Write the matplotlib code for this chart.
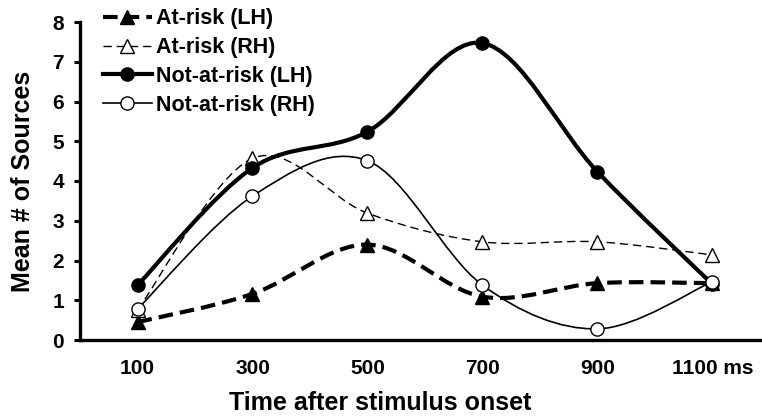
import matplotlib
matplotlib.use("Agg")
import matplotlib.pyplot as plt
from matplotlib.path import Path
from matplotlib.patches import PathPatch
from matplotlib.lines import Line2D
import numpy as np

plt.rcParams["font.family"] = ["Liberation Sans", "DejaVu Sans"]
plt.rcParams["font.weight"] = "bold"

# Data (mean number of sources per time window)
times = ["100", "300", "500", "700", "900", "1100 ms"]
at_risk_lh = [0.45, 1.16, 2.40, 1.09, 1.43, 1.43]
at_risk_rh = [0.75, 4.57, 3.19, 2.47, 2.47, 2.14]
not_at_risk_lh = [1.38, 4.33, 5.24, 7.47, 4.23, 1.40]
not_at_risk_rh = [0.78, 3.62, 4.51, 1.38, 0.28, 1.47]
y_ticks = [0, 1, 2, 3, 4, 5, 6, 7, 8]


def smooth_path(xs, ys):
    """Excel-style smoothed line: cubic Bezier through every point."""
    pts = np.column_stack([xs, ys]).astype(float)
    ext = np.vstack([pts[0], pts, pts[-1]])
    verts = [pts[0]]
    codes = [Path.MOVETO]
    for i in range(len(pts) - 1):
        p0, p1, p2, p3 = ext[i], ext[i + 1], ext[i + 2], ext[i + 3]
        verts += [p1 + (p2 - p0) / 6, p2 - (p3 - p1) / 6, p2]
        codes += [Path.CURVE4] * 3
    return Path(verts, codes)


fig = plt.figure(figsize=(7.62, 4.18), dpi=100)
ax = fig.add_axes([80 / 762, 78 / 418, 690 / 762, 318 / 418])

x = np.arange(len(times))

series = [
    ("At-risk (LH)", at_risk_lh, dict(lw=3.0, ls=(0, (3.5, 1.7))), dict(marker="^", mfc="black")),
    ("At-risk (RH)", at_risk_rh, dict(lw=1.0, ls=(0, (6, 3.5))), dict(marker="^", mfc="white")),
    ("Not-at-risk (LH)", not_at_risk_lh, dict(lw=3.0, ls="-"), dict(marker="o", mfc="black")),
    ("Not-at-risk (RH)", not_at_risk_rh, dict(lw=1.2, ls="-"), dict(marker="o", mfc="white")),
]

handles = []
for label, vals, line_kw, mark_kw in series:
    patch = PathPatch(smooth_path(x, vals), fill=False, edgecolor="black",
                      lw=line_kw["lw"], linestyle=line_kw["ls"], capstyle="butt",
                      zorder=2)
    ax.add_patch(patch)
    ax.plot(x, vals, ls="none", marker=mark_kw["marker"], mfc=mark_kw["mfc"],
            mec="black", mew=1.0, ms=9.5, zorder=3)
    handles.append(Line2D([], [], color="black", lw=line_kw["lw"], ls=line_kw["ls"],
                          marker=mark_kw["marker"], mfc=mark_kw["mfc"], mec="black",
                          mew=1.0, ms=9.5, dash_capstyle="butt", label=label))

ax.set_xlim(-0.5, len(times) - 0.5)
ax.set_ylim(0, 8)
ax.set_xticks(x)
ax.set_xticklabels(times, fontsize=15, fontweight="bold")
ax.set_yticks(y_ticks)
ax.set_yticklabels([str(t) for t in y_ticks], fontsize=15, fontweight="bold")
ax.tick_params(axis="x", length=0, pad=14)
ax.tick_params(axis="y", direction="out", length=4.5, width=2.2, pad=7)

for side in ["top", "right"]:
    ax.spines[side].set_visible(False)
for side in ["left", "bottom"]:
    ax.spines[side].set_linewidth(2.4)

ax.set_xlabel("Time after stimulus onset", fontsize=18, fontweight="bold", va="center")
ax.xaxis.set_label_coords(300 / 690, -63 / 318)
ax.set_ylabel("Mean # of Sources", fontsize=18, fontweight="bold", va="center")
ax.yaxis.set_label_coords(-57 / 690, 0.5)

leg = ax.legend(handles=handles, loc="upper left", bbox_to_anchor=(14 / 690, 1.07),
                frameon=False, fontsize=15.5, handlelength=2.3, handletextpad=0.2,
                labelspacing=0.36, borderaxespad=0)
for t in leg.get_texts():
    t.set_fontweight("bold")

fig.savefig("out.png", dpi=100, facecolor="white")
